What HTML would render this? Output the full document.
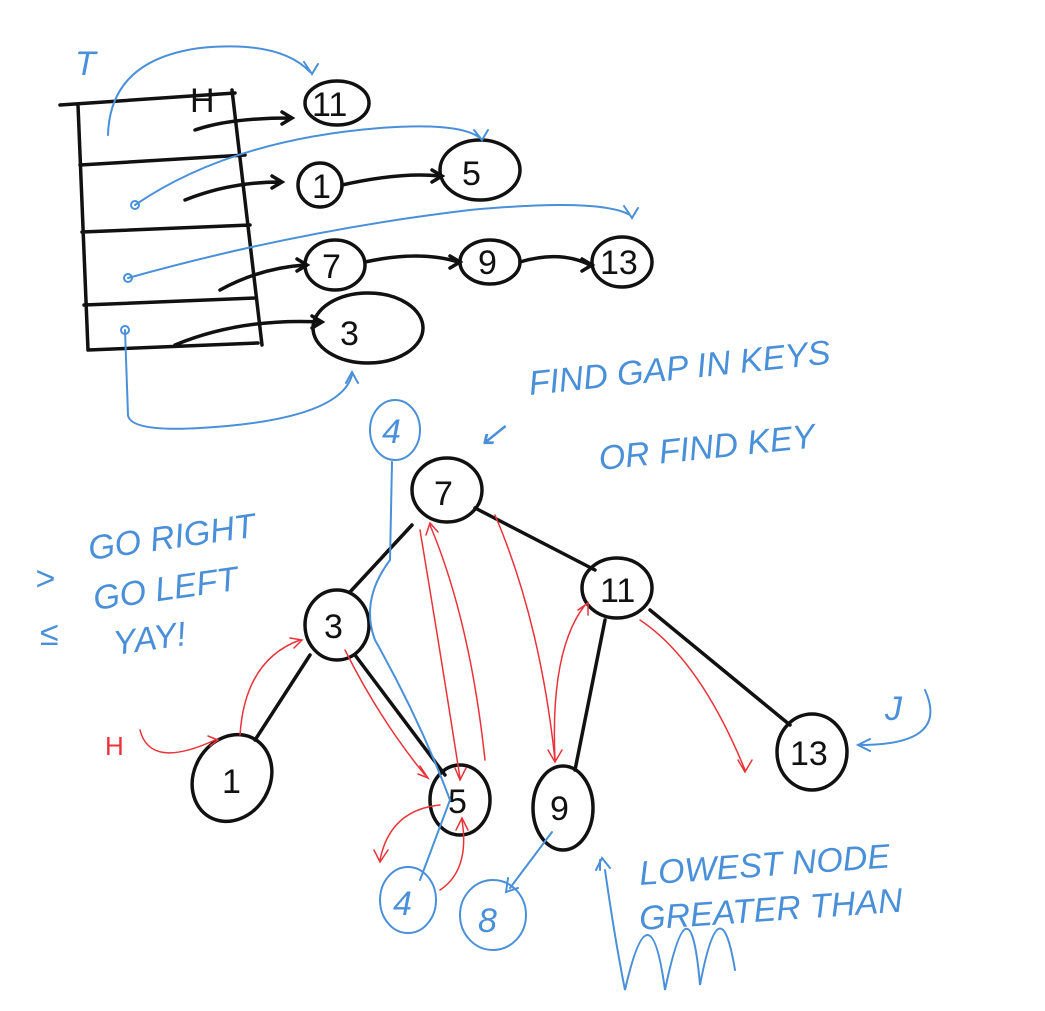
<!DOCTYPE html>
<html><head><meta charset="utf-8"><style>
html,body{margin:0;padding:0;background:#ffffff;}
svg{display:block}
.k{fill:none;stroke:#111;stroke-width:3.5;stroke-linecap:round}
.b{fill:none;stroke:#4a90d9;stroke-width:2;stroke-linecap:round}
.r{fill:none;stroke:#e8333a;stroke-width:1.5;stroke-linecap:round}
.tk{font-family:"Liberation Sans",sans-serif;fill:#111;font-size:34px}
.tb{font-family:"Liberation Sans",sans-serif;fill:#4a90d9;font-size:34px;font-style:italic}
</style></head><body>
<svg width="1045" height="1011" viewBox="0 0 1045 1011">
<path class="k" d="M60 105 L235 93 M78 105 L88 350 M232 90 L262 345 M80 165 L245 155 M82 232 L250 225 M84 305 L255 298 M88 350 L258 343"/>
<text class="tk" x="190" y="112" font-size="26">H</text>
<path class="k" d="M195 130 Q230 118 290 118 M282 112 L292 118 L282 124"/>
<path class="k" d="M185 200 Q230 182 280 182 M272 176 L282 182 L272 188"/>
<path class="k" d="M220 290 Q260 268 305 265 M297 259 L307 265 L297 271"/>
<path class="k" d="M175 345 Q240 318 320 322 M312 316 L322 322 L312 328"/>
<ellipse class="k" cx="337" cy="103" rx="32" ry="22"/><text class="tk" x="312" y="116" font-size="30">11</text>
<ellipse class="k" cx="320" cy="185" rx="22" ry="22"/><text class="tk" x="312" y="198" font-size="30">1</text>
<ellipse class="k" cx="480" cy="170" rx="40" ry="30"/><text class="tk" x="462" y="185">5</text>
<ellipse class="k" cx="335" cy="265" rx="30" ry="25"/><text class="tk" x="322" y="278">7</text>
<ellipse class="k" cx="490" cy="262" rx="30" ry="22"/><text class="tk" x="478" y="274" font-size="30">9</text>
<ellipse class="k" cx="622" cy="262" rx="30" ry="25"/><text class="tk" x="600" y="274" font-size="30">13</text>
<ellipse class="k" cx="368" cy="328" rx="55" ry="35"/><text class="tk" x="340" y="345" font-size="36">3</text>
<path class="k" d="M342 185 Q400 172 440 176 M432 170 L442 176 L432 182"/>
<path class="k" d="M365 262 Q420 250 458 262 M450 256 L460 262 L450 268"/>
<path class="k" d="M520 262 Q560 250 590 265 M582 259 L592 265 L582 271"/>
<text class="tb" x="75" y="75" font-size="40" font-style="normal">T</text>
<path class="b" d="M108 135 Q110 60 200 48 Q280 40 310 72 M304 62 L312 74 L318 64"/>
<path class="b" d="M135 205 Q230 140 380 128 Q460 122 480 138 M474 130 L482 140 L488 130"/>
<circle class="b" cx="135" cy="205" r="4"/>
<path class="b" d="M128 278 Q300 230 470 210 Q600 198 630 215 M624 206 L632 218 L638 208"/>
<circle class="b" cx="128" cy="278" r="4"/>
<path class="b" d="M125 330 L128 415 Q130 432 200 428 Q340 420 352 375 M346 383 L352 372 L358 383"/>
<circle class="b" cx="125" cy="330" r="4"/>
<text class="tb" x="478" y="445" font-size="34">↙</text>
<text class="tb" x="530" y="395" font-size="36" transform="rotate(-6 530 395)">FIND GAP IN KEYS</text>
<text class="tb" x="600" y="470" font-size="34" transform="rotate(-6 600 470)">OR FIND KEY</text>
<ellipse class="b" cx="395" cy="430" rx="25" ry="30"/><text class="tb" x="382" y="443" font-style="normal">4</text>
<text class="tb" x="90" y="560" font-size="28" transform="rotate(-8 90 560)">GO RIGHT</text>
<text class="tb" x="95" y="610" font-size="28" transform="rotate(-8 95 610)">GO LEFT</text>
<text class="tb" x="115" y="655" font-size="28" transform="rotate(-8 115 655)">YAY!</text>
<text class="tb" x="35" y="590" font-size="36" font-style="normal">&gt;</text>
<text class="tb" x="40" y="645" font-size="36" font-style="normal">≤</text>
<path class="k" d="M412 525 L350 592 M475 508 L595 570 M310 655 L255 740 M355 655 L445 775 M605 620 L575 770 M650 610 L790 725"/>
<ellipse class="k" cx="447" cy="490" rx="35" ry="32"/><text class="tk" x="434" y="505">7</text>
<ellipse class="k" cx="337" cy="625" rx="32" ry="35"/><text class="tk" x="324" y="638">3</text>
<ellipse class="k" cx="617" cy="588" rx="35" ry="30"/><text class="tk" x="600" y="602" font-size="30">11</text>
<ellipse class="k" cx="232" cy="778" rx="38" ry="45" transform="rotate(30 232 778)"/><text class="tk" x="222" y="793">1</text>
<ellipse class="k" cx="460" cy="800" rx="30" ry="35"/><text class="tk" x="448" y="813">5</text>
<ellipse class="k" cx="563" cy="808" rx="30" ry="42"/><text class="tk" x="550" y="820">9</text>
<ellipse class="k" cx="812" cy="752" rx="35" ry="38"/><text class="tk" x="790" y="765" font-size="30">13</text>
<text x="105" y="755" font-family="Liberation Sans,sans-serif" fill="#e8333a" font-size="26">H</text>
<path class="r" d="M140 730 Q150 770 215 740 M208 736 L218 740 L210 746"/>
<path class="r" d="M240 735 Q245 660 300 640 M290 638 L302 640 L294 648"/>
<path class="r" d="M345 650 Q380 720 425 775 M420 766 L428 778 L418 774"/>
<path class="r" d="M485 760 Q470 620 430 525 M426 535 L430 523 L438 532"/>
<path class="r" d="M420 530 Q440 650 460 778 M455 768 L460 780 L466 768"/>
<path class="r" d="M440 805 Q390 810 380 860 M374 850 L380 862 L388 850"/>
<path class="r" d="M440 890 Q470 870 462 820 M456 830 L462 818 L468 830"/>
<path class="r" d="M495 515 Q540 620 555 760 M548 750 L555 762 L562 750"/>
<path class="r" d="M555 760 Q550 650 585 605 M578 610 L588 603 L588 615"/>
<path class="r" d="M640 620 Q700 660 745 770 M738 760 L745 772 L752 760"/>
<path class="b" d="M392 462 L390 560 Q360 600 375 640 Q420 720 450 800 L420 880"/>
<ellipse class="b" cx="408" cy="900" rx="28" ry="33"/><text class="tb" x="393" y="915" font-style="normal">4</text>
<path class="b" d="M552 832 L510 888 M508 878 L506 892 L518 888"/>
<ellipse class="b" cx="493" cy="915" rx="33" ry="35"/><text class="tb" x="478" y="932" font-style="normal">8</text>
<text class="tb" x="885" y="720" font-size="40" font-style="normal">J</text>
<path class="b" d="M925 690 Q950 745 860 745 M870 739 L858 745 L870 751"/>
<path class="b" d="M605 870 Q615 940 625 990 Q650 880 665 990 Q690 870 700 985 Q720 880 735 970 M600 870 L600 860 M596 870 L602 858 L610 868"/>
<text class="tb" x="640" y="885" font-size="30" transform="rotate(-4 640 885)">LOWEST NODE</text>
<text class="tb" x="640" y="930" font-size="30" transform="rotate(-4 640 930)">GREATER THAN</text>
</svg>
</body></html>
